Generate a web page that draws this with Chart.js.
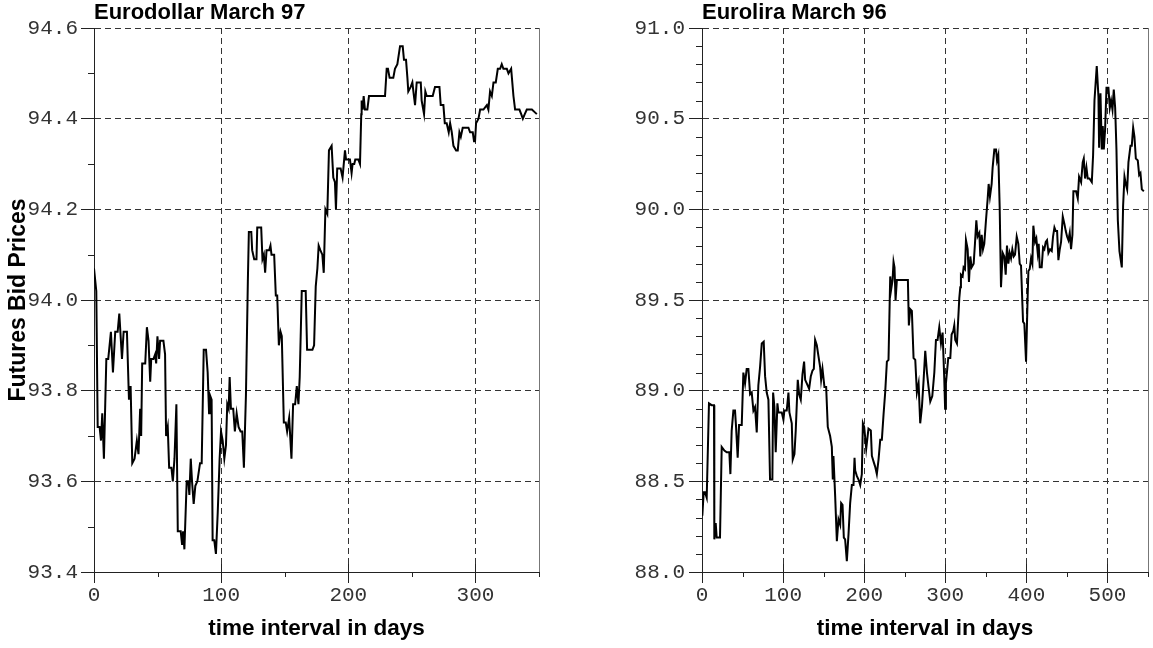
<!DOCTYPE html>
<html>
<head>
<meta charset="utf-8">
<title>Futures Bid Prices</title>
<script src="https://cdn.jsdelivr.net/npm/chart.js"></script>
<style>
  body { margin: 0; background: #fff; }
  canvas { position: absolute; top: 0; }
  #left { left: 0; }
  #right { left: 580px; }
</style>
</head>
<body>
<canvas id="left" width="560" height="648"></canvas>
<canvas id="right" width="573" height="648"></canvas>
<script>
// Eurodollar March 97 (left panel)
const eurodollarDays = [
  0, 1.8, 2.9, 4.4, 5.5, 6.5, 7.8, 9.7, 11.2, 13.3,
  14.9, 16.7, 18.6, 19.9, 22.0, 23.3, 25.9, 27.5, 28.8, 30.1,
  31.9, 33.7, 35.0, 36.3, 37.1, 37.9, 40.3, 41.6, 42.9, 44.2,
  45.0, 46.8, 48.1, 48.9, 49.9, 51.2, 52.0, 54.6, 55.9, 56.7,
  58.0, 59.1, 60.9, 62.0, 63.3, 64.8, 65.9, 68.2, 69.3, 70.1,
  71.1, 72.9, 74.2, 75.0, 76.1, 77.1, 78.4, 79.7, 81.3, 83.4,
  84.7, 86.3, 88.1, 89.4, 90.5, 91.2, 92.5, 93.3, 94.6, 95.9,
  97.3, 98.8, 99.9, 101.2, 102.5, 103.8, 104.8, 105.9, 106.7, 107.7,
  109.5, 110.8, 112.2, 113.7, 115.3, 116.6, 117.9, 119.5, 121.0, 121.8,
  123.7, 124.4, 126.0, 127.8, 128.4, 131.5, 132.5, 133.6, 134.6, 135.7,
  137.8, 138.8, 139.6, 141.7, 143.0, 144.1, 145.4, 146.7, 147.7, 149.3,
  150.8, 151.9, 153.5, 155.3, 156.6, 158.2, 159.5, 160.8, 161.8, 163.4,
  166.5, 167.6, 171.8, 173.1, 174.4, 175.7, 176.7, 178.0, 179.6, 180.7,
  182.0, 183.5, 184.8, 186.9, 188.2, 189.5, 190.3, 191.3, 194.0, 195.5,
  197.4, 198.2, 201.3, 202.6, 203.4, 204.7, 205.5, 207.9, 209.2, 210.2,
  210.5, 211.3, 212.1, 213.1, 215.0, 216.3, 228.9, 230.2, 231.2, 232.5,
  235.4, 236.7, 238.6, 240.7, 242.8, 243.8, 245.4, 246.5, 247.2, 249.1,
  250.4, 251.2, 252.5, 253.8, 257.0, 257.7, 259.6, 260.6, 261.7, 266.4,
  268.2, 271.7, 272.7, 274.8, 275.9, 277.4, 279.0, 280.1, 281.4, 282.7,
  284.8, 286.1, 287.4, 288.5, 290.0, 294.5, 295.8, 297.9, 298.9, 299.7,
  300.5, 302.4, 303.7, 306.3, 309.0, 310.2, 311.5, 312.9, 314.2, 316.0,
  317.6, 319.4, 320.7, 322.0, 324.7, 326.0, 328.1, 329.9, 331.2, 333.1,
  334.6, 336.0, 337.3, 338.8, 340.4, 342.5, 344.4, 348.3
];
const eurodollarBid = [
  94.07, 94.02, 93.72, 93.72, 93.69, 93.75, 93.65, 93.87, 93.87, 93.93,
  93.84, 93.93, 93.93, 93.97, 93.87, 93.93, 93.93, 93.78, 93.81, 93.64,
  93.65, 93.69, 93.66, 93.76, 93.70, 93.86, 93.86, 93.94, 93.91, 93.82,
  93.87, 93.87, 93.88, 93.86, 93.92, 93.87, 93.91, 93.91, 93.88, 93.70,
  93.72, 93.63, 93.63, 93.60, 93.65, 93.77, 93.49, 93.49, 93.46, 93.49,
  93.45, 93.60, 93.60, 93.57, 93.65, 93.60, 93.55, 93.59, 93.60, 93.64,
  93.64, 93.89, 93.89, 93.84, 93.75, 93.79, 93.78, 93.47, 93.47, 93.44,
  93.53, 93.65, 93.71, 93.69, 93.65, 93.68, 93.77, 93.76, 93.83, 93.76,
  93.76, 93.71, 93.75, 93.72, 93.71, 93.71, 93.63, 93.79, 94.04, 94.15,
  94.15, 94.11, 94.09, 94.09, 94.16, 94.16, 94.09, 94.10, 94.06, 94.11,
  94.11, 94.12, 94.10, 94.10, 94.01, 94.01, 93.90, 93.93, 93.92, 93.73,
  93.73, 93.71, 93.74, 93.65, 93.77, 93.77, 93.81, 93.77, 93.83, 94.02,
  94.02, 93.89, 93.89, 93.90, 94.03, 94.07, 94.12, 94.11, 94.10, 94.06,
  94.20, 94.19, 94.33, 94.34, 94.27, 94.26, 94.20, 94.29, 94.29, 94.27,
  94.33, 94.31, 94.31, 94.28, 94.30, 94.30, 94.31, 94.31, 94.30, 94.41,
  94.44, 94.42, 94.45, 94.42, 94.42, 94.45, 94.45, 94.51, 94.51, 94.49,
  94.49, 94.51, 94.52, 94.56, 94.56, 94.53, 94.53, 94.49, 94.46, 94.47,
  94.48, 94.46, 94.43, 94.48, 94.48, 94.44, 94.41, 94.46, 94.45, 94.45,
  94.47, 94.47, 94.43, 94.43, 94.39, 94.39, 94.37, 94.39, 94.37, 94.34,
  94.33, 94.33, 94.37, 94.36, 94.38, 94.38, 94.37, 94.37, 94.35, 94.35,
  94.39, 94.40, 94.42, 94.42, 94.43, 94.42, 94.46, 94.45, 94.48, 94.48,
  94.51, 94.51, 94.52, 94.51, 94.51, 94.50, 94.51, 94.45, 94.42, 94.42,
  94.42, 94.41, 94.40, 94.41, 94.42, 94.42, 94.42, 94.41
];

// Eurolira March 96 (right panel)
const euroliraDays = [
  0.4, 2.1, 3.7, 5.8, 8.6, 11.9, 14.8, 15.2, 16.9, 18.1,
  22.2, 24.3, 27.6, 30.5, 33.7, 35.0, 36.6, 38.7, 40.7, 42.0,
  44.0, 45.7, 49.0, 51.0, 53.1, 55.1, 57.2, 59.3, 61.3, 63.4,
  65.4, 67.5, 69.5, 71.6, 73.7, 76.1, 77.8, 79.8, 81.9, 83.9,
  86.8, 87.7, 89.3, 90.9, 93.0, 94.2, 98.4, 100.4, 101.6, 104.5,
  106.6, 107.8, 110.7, 111.9, 114.0, 115.6, 118.1, 119.8, 121.8, 123.9,
  125.9, 127.2, 129.2, 132.1, 134.2, 136.2, 137.9, 139.5, 141.6, 143.6,
  145.7, 146.9, 148.6, 151.0, 153.1, 155.1, 158.0, 160.1, 161.3, 162.1,
  164.2, 166.3, 168.3, 170.4, 171.6, 173.3, 174.9, 176.5, 178.6, 180.7,
  182.7, 184.8, 186.8, 188.1, 188.9, 190.9, 193.0, 195.1, 197.1, 198.4,
  200.0, 202.5, 205.3, 208.2, 209.5, 211.5, 213.6, 215.6, 217.7, 219.8,
  221.8, 223.9, 225.9, 228.0, 230.0, 232.1, 233.3, 235.0, 236.2, 237.4,
  238.7, 240.3, 253.9, 255.1, 256.8, 258.8, 260.9, 263.0, 265.0, 267.1,
  269.1, 271.2, 273.3, 275.3, 277.4, 279.4, 281.5, 284.0, 286.5, 288.5,
  290.5, 292.6, 294.7, 296.7, 298.8, 299.8, 300.8, 303.7, 306.2, 307.8,
  309.9, 311.1, 312.3, 314.4, 317.3, 318.5, 319.3, 321.4, 322.6, 324.3,
  325.5, 327.6, 329.2, 330.9, 332.5, 335.0, 336.6, 338.3, 339.9, 342.0,
  343.2, 344.9, 346.5, 348.1, 350.2, 352.3, 353.5, 355.1, 357.2, 358.4,
  360.5, 362.6, 363.8, 365.4, 367.1, 368.7, 370.8, 372.8, 374.5, 376.1,
  377.8, 379.4, 381.1, 382.7, 384.4, 386.0, 388.1, 390.1, 391.8, 393.4,
  395.9, 397.5, 399.6, 401.6, 402.5, 404.1, 405.8, 407.4, 408.6, 410.7,
  412.3, 414.0, 415.2, 416.5, 418.9, 420.6, 422.2, 423.9, 425.5, 427.2,
  429.2, 431.3, 432.9, 434.6, 436.2, 437.9, 439.5, 441.2, 442.8, 444.9,
  446.9, 448.6, 450.2, 451.9, 453.5, 455.1, 456.8, 458.0, 461.3, 463.4,
  465.0, 467.5, 469.5, 470.8, 472.4, 474.1, 475.7, 477.8, 480.7, 482.3,
  484.0, 486.8, 488.9, 489.7, 491.4, 493.0, 494.2, 495.5, 497.1, 498.8,
  501.2, 502.9, 504.5, 506.2, 507.8, 509.5, 511.1, 512.8, 514.8, 517.7,
  519.3, 521.0, 522.6, 524.3, 525.9, 528.4, 530.0, 531.7, 533.3, 535.0,
  537.4, 539.1, 540.7, 542.4, 544.9
];
const euroliraBid = [
  88.31, 88.44, 88.44, 88.41, 88.93, 88.92, 88.92, 88.18, 88.27, 88.19,
  88.19, 88.69, 88.67, 88.66, 88.66, 88.54, 88.78, 88.89, 88.89, 88.80,
  88.63, 88.81, 88.81, 89.10, 89.04, 89.12, 89.12, 88.98, 88.99, 88.89,
  88.91, 88.77, 89.03, 89.13, 89.26, 89.27, 89.08, 88.99, 88.95, 88.51,
  88.51, 88.99, 88.91, 88.66, 88.93, 88.88, 88.88, 88.84, 88.89, 88.89,
  88.99, 88.88, 88.82, 88.62, 88.65, 88.78, 89.06, 88.98, 88.95, 89.09,
  89.16, 89.06, 89.04, 89.01, 89.08, 89.11, 89.12, 89.28, 89.25, 89.19,
  89.13, 89.06, 89.12, 89.02, 89.02, 88.80, 88.75, 88.69, 88.51, 88.64,
  88.42, 88.17, 88.29, 88.26, 88.38, 88.37, 88.19, 88.18, 88.06, 88.21,
  88.38, 88.48, 88.48, 88.63, 88.56, 88.53, 88.51, 88.48, 88.54, 88.82,
  88.80, 88.68, 88.79, 88.78, 88.64, 88.61, 88.58, 88.54, 88.62, 88.73,
  88.73, 88.87, 88.99, 89.16, 89.17, 89.63, 89.56, 89.61, 89.71, 89.68,
  89.50, 89.61, 89.61, 89.36, 89.45, 89.44, 89.18, 89.17, 88.99, 89.04,
  88.82, 88.91, 89.06, 89.22, 89.10, 89.02, 88.94, 88.97, 89.10, 89.28,
  89.28, 89.35, 89.26, 89.32, 89.06, 88.90, 89.04, 89.18, 89.18, 89.31,
  89.33, 89.36, 89.28, 89.26, 89.51, 89.57, 89.64, 89.63, 89.68, 89.67,
  89.83, 89.78, 89.60, 89.74, 89.68, 89.70, 89.81, 89.94, 89.85, 89.87,
  89.74, 89.86, 89.78, 89.81, 89.94, 90.06, 90.14, 90.07, 90.14, 90.23,
  90.33, 90.33, 90.27, 90.30, 90.01, 89.57, 89.76, 89.74, 89.64, 89.80,
  89.70, 89.76, 89.73, 89.78, 89.74, 89.75, 89.85, 89.81, 89.70, 89.69,
  89.38, 89.37, 89.16, 89.52, 89.66, 89.67, 89.73, 89.70, 89.91, 89.82,
  89.84, 89.76, 89.81, 89.68, 89.68, 89.79, 89.78, 89.82, 89.83, 89.76,
  89.78, 89.77, 89.85, 89.90, 89.88, 89.88, 89.72, 89.78, 89.82, 89.96,
  89.92, 89.88, 89.85, 89.83, 89.87, 89.78, 89.86, 90.10, 90.10, 90.06,
  90.18, 90.15, 90.26, 90.28, 90.17, 90.23, 90.17, 90.17, 90.15, 90.30,
  90.60, 90.79, 90.62, 90.34, 90.64, 90.33, 90.46, 90.33, 90.44, 90.67,
  90.67, 90.56, 90.60, 90.55, 90.66, 90.56, 90.33, 89.94, 89.77, 89.68,
  90.02, 90.18, 90.14, 90.11, 90.26, 90.35, 90.35, 90.45, 90.40, 90.28,
  90.27, 90.19, 90.20, 90.11, 90.10
];

const tickFont = { family: 'Liberation Mono', size: 21, lineHeight: 1 };
const boldFont = size => ({ family: 'Liberation Sans', size: size, weight: 'bold', lineHeight: 1 });

// minor ticks, the little upward part of x major ticks, and the right frame line
const frame = {
  id: 'frame',
  afterDraw(chart, args, opts) {
    const { ctx, chartArea: a, scales: { x, y } } = chart;
    const px = v => Math.round(v) + 0.5;
    ctx.save();
    ctx.lineWidth = 1;
    ctx.strokeStyle = '#222';
    ctx.beginPath();
    let n = Math.round((y.max - y.min) / opts.yMinor);
    for (let k = 1; k < n; k++) {
      if (k % opts.yRatio === 0) continue;
      const py = px(y.getPixelForValue(y.min + k * opts.yMinor));
      ctx.moveTo(a.left - 6, py);
      ctx.lineTo(a.left, py);
    }
    n = Math.round((x.max - x.min) / opts.xMinor);
    for (let k = 1; k <= n; k++) {
      const pxx = px(x.getPixelForValue(x.min + k * opts.xMinor));
      if (k % opts.xRatio === 0) {
        ctx.moveTo(pxx, a.bottom - 8);
        ctx.lineTo(pxx, a.bottom);
      } else {
        ctx.moveTo(pxx, a.bottom);
        ctx.lineTo(pxx, a.bottom + 5);
      }
    }
    ctx.moveTo(px(a.left), a.bottom - 8);
    ctx.lineTo(px(a.left), a.bottom);
    ctx.stroke();
    ctx.strokeStyle = '#777';
    ctx.beginPath();
    ctx.moveTo(px(a.right), a.top);
    ctx.lineTo(px(a.right), a.bottom);
    ctx.stroke();
    ctx.restore();
  }
};

function makeChart(id, title, days, bids, o) {
  const yScale = {
    min: o.yMin, max: o.yMax,
    afterFit: s => { s.width = o.yWidth; },
    grid: { color: '#333', lineWidth: 1, tickLength: 13, tickColor: '#222' },
    border: { display: true, color: '#222', width: 1, dash: [6, 4] },
    ticks: {
      stepSize: o.yStep, padding: o.yPad, color: '#333', font: tickFont,
      callback: v => Number(v).toFixed(1)
    },
    title: { display: !!o.yTitle, text: o.yTitle || '', color: '#000', font: boldFont(23), padding: 7 }
  };
  const xScale = {
    type: 'linear', min: 0, max: o.xMax,
    afterFit: s => { s.height = 76; },
    grid: { color: '#333', lineWidth: 1, tickLength: 11, tickColor: '#222' },
    border: { display: true, color: '#222', width: 1, dash: [6, 4] },
    ticks: {
      stepSize: 100, includeBounds: false, autoSkip: false, maxRotation: 0,
      padding: 2, color: '#333', font: tickFont
    },
    title: { display: true, text: 'time interval in days', color: '#000', font: boldFont(22.5), padding: 8 }
  };
  return new Chart(document.getElementById(id), {
    type: 'line',
    data: {
      datasets: [{
        data: days.map((d, i) => ({ x: d, y: bids[i] })),
        borderColor: '#000',
        borderWidth: 2,
        pointRadius: 0,
        tension: 0,
        fill: false
      }]
    },
    options: {
      responsive: false,
      animation: false,
      events: [],
      layout: { padding: { left: 0, top: 0, bottom: 0, right: o.padRight } },
      scales: { x: xScale, y: yScale },
      plugins: {
        legend: { display: false },
        tooltip: { enabled: false },
        title: {
          display: true, text: title, align: 'start', fullSize: false,
          color: '#000', font: boldFont(22), padding: { top: 2, bottom: 4 }
        },
        frame: { yMinor: 0.1, yRatio: o.yRatio, xMinor: 50, xRatio: 2 }
      }
    },
    plugins: [frame]
  });
}

makeChart('left', 'Eurodollar March 97', eurodollarDays, eurodollarBid, {
  yMin: 93.4, yMax: 94.6, yStep: 0.2, yRatio: 2, xMax: 350,
  yWidth: 94, yPad: 3, padRight: 21, yTitle: 'Futures Bid Prices'
});
makeChart('right', 'Eurolira March 96', euroliraDays, euroliraBid, {
  yMin: 88, yMax: 91, yStep: 0.5, yRatio: 5, xMax: 550,
  yWidth: 122, yPad: 4, padRight: 5
});
</script>
</body>
</html>
